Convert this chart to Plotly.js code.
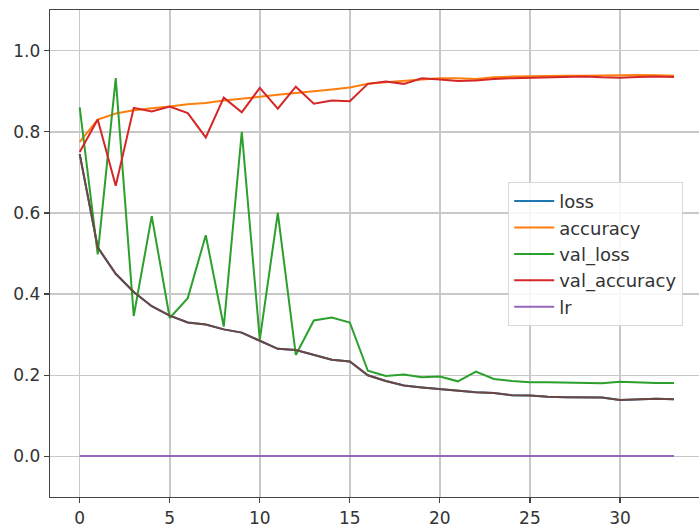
<!DOCTYPE html>
<html>
<head>
<meta charset="utf-8">
<script src="https://cdn.plot.ly/plotly-3.0.1.min.js"></script>
<style>html,body{margin:0;padding:0;background:#fff;}#chart{width:699px;height:532px;}</style>
</head>
<body>
<div id="chart"></div>
<script>
const epochs = Array.from({length: 34}, (_, i) => i);
const loss = [0.745, 0.515, 0.450, 0.405, 0.370, 0.347, 0.330, 0.325, 0.313, 0.305, 0.285, 0.265, 0.262, 0.250, 0.238, 0.234, 0.200, 0.186, 0.175, 0.170, 0.166, 0.161, 0.158, 0.156, 0.151, 0.150, 0.147, 0.146, 0.146, 0.145, 0.139, 0.141, 0.142, 0.141];
const accuracy = [0.775, 0.830, 0.845, 0.853, 0.858, 0.862, 0.868, 0.871, 0.877, 0.881, 0.886, 0.891, 0.895, 0.899, 0.904, 0.909, 0.918, 0.922, 0.926, 0.929, 0.932, 0.932, 0.930, 0.934, 0.936, 0.937, 0.937, 0.938, 0.938, 0.939, 0.939, 0.940, 0.939, 0.938];
const val_loss = [0.860, 0.498, 0.932, 0.346, 0.592, 0.341, 0.390, 0.545, 0.320, 0.800, 0.288, 0.600, 0.250, 0.335, 0.342, 0.330, 0.211, 0.198, 0.202, 0.195, 0.197, 0.185, 0.209, 0.191, 0.186, 0.183, 0.183, 0.182, 0.180, 0.180, 0.184, 0.182, 0.181, 0.181];
const val_accuracy = [0.750, 0.830, 0.667, 0.859, 0.850, 0.862, 0.846, 0.786, 0.884, 0.848, 0.908, 0.857, 0.911, 0.869, 0.877, 0.875, 0.918, 0.924, 0.918, 0.932, 0.929, 0.925, 0.926, 0.930, 0.932, 0.933, 0.934, 0.935, 0.936, 0.934, 0.933, 0.935, 0.936, 0.935];
const lr = Array(34).fill(0.001);
const xTicks = [0, 5, 10, 15, 20, 25, 30];
const yTicks = [0.0, 0.2, 0.4, 0.6, 0.8, 1.0];

const series = [
  {name: 'loss', y: loss, color: '#1f77b4'},
  {name: 'accuracy', y: accuracy, color: '#ff7f0e'},
  {name: 'val_loss', y: val_loss, color: '#2ca02c'},
  {name: 'val_accuracy', y: val_accuracy, color: '#d62728'},
  {name: 'lr', y: lr, color: '#9467bd'}
];
const traces = series.map((s, i) => ({
  x: epochs, y: s.y, name: s.name, type: 'scatter', mode: 'lines',
  line: {color: s.color, width: 2}, legendgroup: 'g' + i
}));
traces.push({
  x: epochs, y: loss, name: 'loss_brown', type: 'scatter', mode: 'lines',
  line: {color: '#6e4640', width: 2}, showlegend: false
});

const font = {family: 'DejaVu Sans', size: 17, color: '#333'};
const legendFont = {family: 'DejaVu Sans', size: 18, color: '#333'};
const layout = {
  width: 699, height: 532,
  margin: {l: 50, r: 0, t: 10, b: 35},
  paper_bgcolor: '#fff', plot_bgcolor: '#fff',
  font: font,
  showlegend: true,
  xaxis: {
    range: [-1.65, 34.39], tickvals: xTicks, ticktext: xTicks.map(String),
    showgrid: true, gridcolor: '#c8c8c8', gridwidth: 1.5,
    zeroline: false, showline: true, mirror: true, linecolor: '#444', linewidth: 1.3,
    ticks: 'outside', ticklen: 5, tickcolor: '#444', tickwidth: 1.2,
    tickfont: font
  },
  yaxis: {
    range: [-0.1, 1.1], tickvals: yTicks, ticktext: yTicks.map(v => v.toFixed(1)),
    showgrid: true, gridcolor: '#c8c8c8', gridwidth: 1.5,
    zeroline: false, showline: true, linecolor: '#444', linewidth: 1.3,
    ticks: 'outside', ticklen: 5, tickcolor: '#444', tickwidth: 1.2,
    tickfont: font
  },
  legend: {
    x: 0.706, y: 0.647, xanchor: 'left', yanchor: 'top',
    bgcolor: 'rgba(255,255,255,0.85)', bordercolor: '#d8d8d8', borderwidth: 1,
    font: legendFont, tracegroupgap: 0, itemwidth: 40
  }
};
Plotly.newPlot('chart', traces, layout, {displayModeBar: false, staticPlot: true});
</script>
</body>
</html>
